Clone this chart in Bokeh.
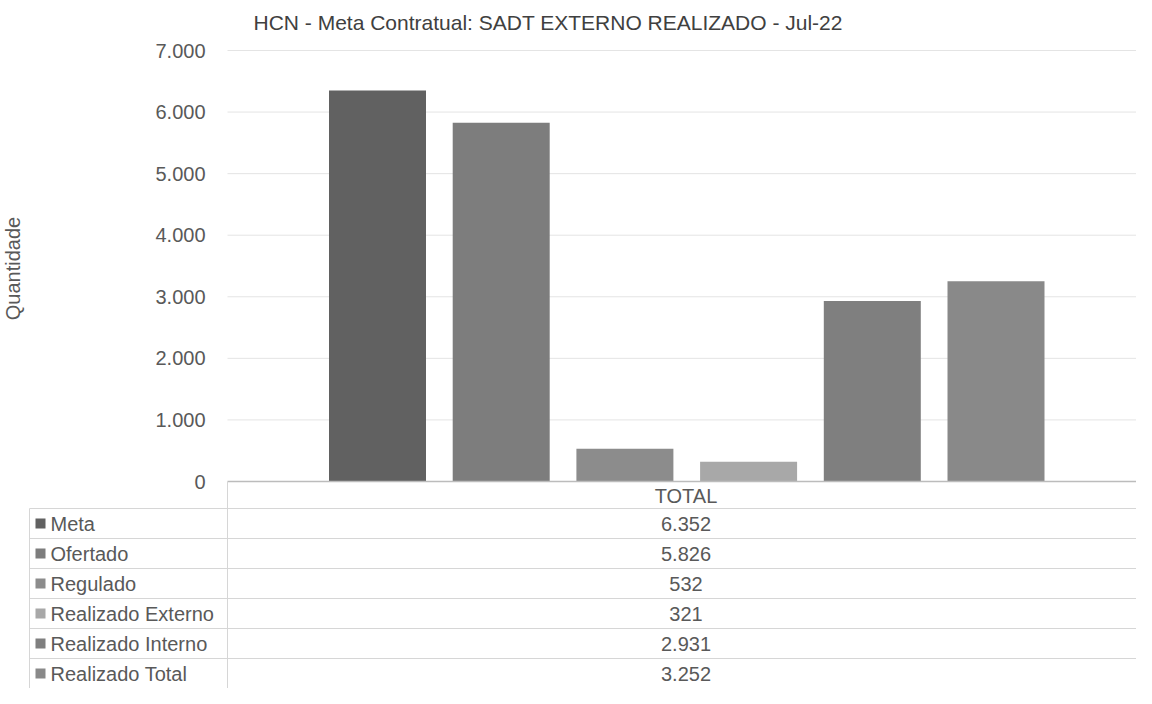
from math import pi
from bokeh.plotting import figure
from bokeh.models import Range1d, ColumnDataSource
from bokeh.embed import file_html
from bokeh.resources import INLINE
from bokeh.core.properties import value

# ---- data ----
title_text = "HCN - Meta Contratual: SADT EXTERNO REALIZADO - Jul-22"
category = "TOTAL"
series = ["Meta", "Ofertado", "Regulado", "Realizado Externo", "Realizado Interno", "Realizado Total"]
values = [6352, 5826, 532, 321, 2931, 3252]
colors = ["#616161", "#7d7d7d", "#8c8c8c", "#a8a8a8", "#7f7f7f", "#898989"]
y_ticks = [0, 1000, 2000, 3000, 4000, 5000, 6000, 7000]
y_tick_labels = ["0", "1.000", "2.000", "3.000", "4.000", "5.000", "6.000", "7.000"]
y_label = "Quantidade"

def fmt(v):
    return f"{v:,}".replace(",", ".")

FONT = "Liberation Sans"
TXT = "#595959"
W, H = 1136, 688

# ---- layout geometry (window pixels) ----
FRAME_L, FRAME_R, FRAME_T, FRAME_B = 8, 1144, 44, 696
Y0, YMAX_PX, YMAX = 489, 58, 7000         # value 0 at y=489, 7000 at y=58
BAR0, UNIT = 385.0, 123.7                 # centre of first category and category spacing
PLOT_L = 235                              # left edge of the plotting area / table divider
TABLE_L = 37
HEADER_B = 516
ROW_H = 30

ky = (Y0 - YMAX_PX) / YMAX
def dy(wy):
    return (Y0 - wy) / ky
def dx(wx):
    return (wx - BAR0) / UNIT

p = figure(width=W, height=H, output_backend="svg", toolbar_location=None,
           x_range=Range1d(dx(FRAME_L), dx(FRAME_R)),
           y_range=Range1d(dy(FRAME_B), dy(FRAME_T)))
p.min_border_left = FRAME_L - 8
p.min_border_right = 0
p.min_border_top = FRAME_T - 8
p.min_border_bottom = 0
p.outline_line_color = None
p.xaxis.visible = False
p.yaxis.visible = False
p.grid.visible = False

# gridlines
grid_ticks = [t for t in y_ticks if t > 0]
p.segment(x0=[dx(PLOT_L)] * len(grid_ticks), y0=grid_ticks,
          x1=[dx(FRAME_R)] * len(grid_ticks), y1=grid_ticks,
          line_color="#e4e4e4", line_width=1)

# tick labels
p.text(x=[dx(213)] * len(y_ticks), y=y_ticks, text=y_tick_labels,
       text_align="right", text_baseline="middle",
       text_font=value(FONT), text_font_size="20px", text_color=TXT)

# axis title
p.text(x=[dx(20)], y=[dy(276)], text=[y_label], angle=pi / 2,
       text_align="center", text_baseline="middle",
       text_font=value(FONT), text_font_size="20px", text_color=TXT)

# bars
src = ColumnDataSource(dict(x=list(range(len(series))), top=values, color=colors, name=series))
p.vbar(x="x", top="top", bottom=0, width=97 / UNIT, color="color", source=src, line_color=None)

# ---- data table ----
# axis line / table top
p.segment(x0=[dx(PLOT_L)], y0=[0], x1=[dx(FRAME_R)], y1=[0], line_color="#bcbcbc", line_width=1.5)
# vertical lines
p.segment(x0=[dx(PLOT_L), dx(TABLE_L)], y0=[0, dy(HEADER_B)],
          x1=[dx(PLOT_L), dx(TABLE_L)], y1=[dy(FRAME_B), dy(FRAME_B)],
          line_color="#d6d6d6", line_width=1)
# horizontal row lines
row_lines = [HEADER_B + i * ROW_H for i in range(len(series))]
p.segment(x0=[dx(TABLE_L)] * len(row_lines), y0=[dy(r) for r in row_lines],
          x1=[dx(FRAME_R)] * len(row_lines), y1=[dy(r) for r in row_lines],
          line_color="#d6d6d6", line_width=1)

xc = dx((PLOT_L + 1152) / 2)
p.text(x=[xc], y=[dy((Y0 + HEADER_B) / 2 + 1)], text=[category],
       text_align="center", text_baseline="middle",
       text_font=value(FONT), text_font_size="20px", text_color=TXT)

row_centers = [dy(HEADER_B + ROW_H * (i + 0.5)) for i in range(len(series))]
p.text(x=[xc] * len(series), y=row_centers, text=[fmt(v) for v in values],
       text_align="center", text_baseline="middle",
       text_font=value(FONT), text_font_size="20px", text_color=TXT)
p.text(x=[dx(58)] * len(series), y=row_centers, text=series,
       text_align="left", text_baseline="middle",
       text_font=value(FONT), text_font_size="20px", text_color=TXT)
p.rect(x=[dx(48)] * len(series), y=row_centers, width=10, height=10,
       width_units="screen", height_units="screen", fill_color=colors, line_color=None)

# title
p.title.text = title_text
p.title.text_font = FONT
p.title.text_font_size = "21px"
p.title.text_font_style = "normal"
p.title.text_color = "#404040"
p.title.align = "left"
p.title.offset = 261 - FRAME_L
p.title.standoff = 5

open("out.html", "w").write(file_html(p, INLINE))
